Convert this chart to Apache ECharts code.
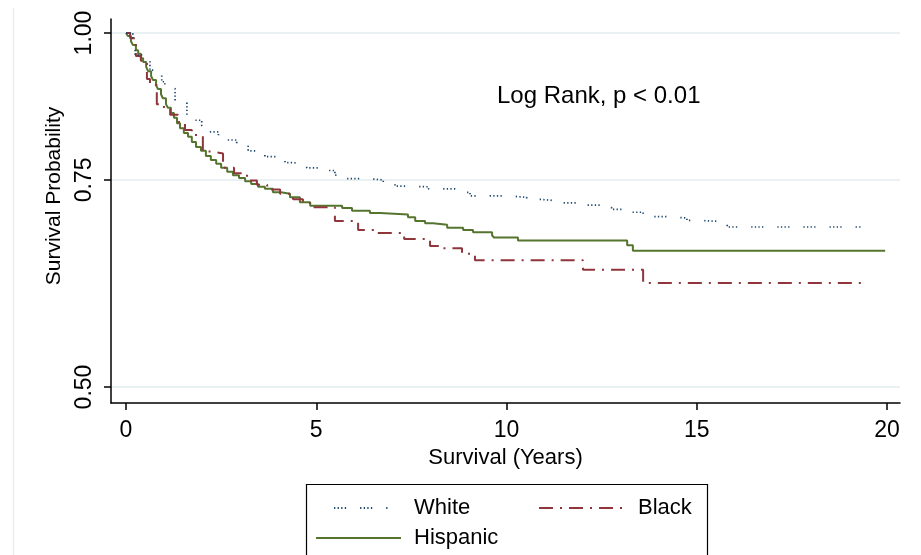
<!DOCTYPE html>
<html><head><meta charset="utf-8">
<script src="https://cdn.jsdelivr.net/npm/echarts@6/dist/echarts.min.js"></script>
<style>html,body{margin:0;padding:0;background:#fff}#c{width:921px;height:555px}</style>
</head><body><div id="c"></div>
<script>
// ---- data ----
const xTicks = [0, 5, 10, 15, 20];
const yTicks = [0.50, 0.75, 1.00];
const seriesNames = ['White', 'Black', 'Hispanic'];
const annotation = 'Log Rank, p < 0.01';
const xTitle = 'Survival (Years)';
const yTitle = 'Survival Probability';

const whiteTime = [0, 0.18, 0.24, 0.63, 0.76, 0.94, 1.02, 1.29, 1.60, 1.81, 1.99, 2.18, 2.43, 2.56, 2.91, 3.21, 3.65, 4.18, 4.35, 4.75, 5.23, 5.49, 5.80, 6.33, 6.76, 7.07, 7.25, 7.95, 8.65, 8.87, 9.04, 10.01, 10.53, 10.88, 11.36, 12.02, 12.46, 12.76, 13.16, 13.59, 14.24, 14.74, 15.00, 15.80, 19.34];
const whiteSurv = [1, 0.974, 0.958, 0.930, 0.924, 0.909, 0.897, 0.877, 0.852, 0.843, 0.834, 0.824, 0.816, 0.811, 0.803, 0.794, 0.785, 0.776, 0.774, 0.768, 0.764, 0.757, 0.752, 0.750, 0.745, 0.741, 0.740, 0.737, 0.735, 0.732, 0.727, 0.725, 0.722, 0.720, 0.717, 0.714, 0.711, 0.708, 0.704, 0.698, 0.696, 0.693, 0.691, 0.684, 0.684];

const blackTime = [0, 0.11, 0.26, 0.39, 0.55, 0.63, 0.81, 0.89, 1.16, 1.37, 1.55, 1.73, 2.02, 2.23, 2.55, 2.84, 3.18, 3.44, 3.71, 4.05, 4.39, 4.65, 4.84, 5.49, 6.10, 6.57, 7.31, 7.99, 8.25, 8.83, 9.17, 12.01, 13.59, 19.37];
const blackSurv = [1, 0.990, 0.956, 0.947, 0.914, 0.903, 0.870, 0.865, 0.852, 0.840, 0.827, 0.819, 0.793, 0.790, 0.768, 0.760, 0.749, 0.743, 0.736, 0.730, 0.722, 0.717, 0.711, 0.692, 0.680, 0.676, 0.668, 0.659, 0.656, 0.649, 0.641, 0.629, 0.613, 0.613];

const hispTime = [0, 0.05, 0.13, 0.18, 0.26, 0.32, 0.39, 0.45, 0.53, 0.58, 0.66, 0.71, 0.79, 0.84, 0.92, 0.97, 1.05, 1.10, 1.18, 1.26, 1.34, 1.42, 1.52, 1.63, 1.73, 1.84, 1.97, 2.10, 2.23, 2.37, 2.50, 2.66, 2.81, 2.97, 3.13, 3.29, 3.47, 3.65, 3.86, 4.07, 4.31, 4.57, 4.84, 5.68, 5.94, 6.41, 6.68, 7.41, 7.60, 7.86, 8.07, 8.44, 8.86, 9.12, 9.62, 9.67, 10.30, 13.17, 13.32, 19.95];
const hispSurv = [1, 0.994, 0.984, 0.977, 0.967, 0.960, 0.952, 0.945, 0.936, 0.928, 0.919, 0.912, 0.903, 0.896, 0.887, 0.880, 0.870, 0.864, 0.855, 0.847, 0.838, 0.830, 0.822, 0.816, 0.808, 0.800, 0.794, 0.786, 0.780, 0.774, 0.768, 0.762, 0.757, 0.753, 0.748, 0.744, 0.740, 0.737, 0.732, 0.730, 0.725, 0.718, 0.713, 0.710, 0.706, 0.703, 0.701, 0.697, 0.692, 0.689, 0.687, 0.683, 0.680, 0.677, 0.673, 0.670, 0.666, 0.660, 0.653, 0.653];

function zip(a, b) { const n = Math.min(a.length, b.length); const r = []; for (let i = 0; i < n; i++) r.push([a[i], b[i]]); return r; }

const FONT = '"Liberation Sans", Arial, Helvetica, sans-serif';
const NAVY = '#1a476f', MAROON = '#90353b', GREEN = '#55752f';
const hideSym = {opacity: 0, color: 'transparent', borderWidth: 0};

const chart = echarts.init(document.getElementById('c'), null, {renderer: 'canvas'});
chart.setOption({
  animation: false,
  backgroundColor: '#fff',
  textStyle: {fontFamily: FONT},
  grid: {left: 111, right: 21, top: 19, bottom: 152},
  xAxis: {
    type: 'value', min: -0.394, max: 20.34,
    axisLine: {onZero: false, lineStyle: {color: '#000', width: 1.5}},
    axisTick: {customValues: xTicks, length: 7, lineStyle: {color: '#000', width: 1.5}},
    axisLabel: {customValues: xTicks, margin: 16, fontSize: 23, color: '#000', fontFamily: FONT},
    splitLine: {show: false},
    name: xTitle, nameLocation: 'middle', nameGap: 41,
    nameTextStyle: {fontSize: 22, color: '#000', fontFamily: FONT}
  },
  yAxis: {
    type: 'log', min: 0.4846, max: 1.0278,
    axisLine: {show: true, onZero: false, lineStyle: {color: '#000', width: 1.5}},
    axisTick: {show: true, customValues: yTicks, length: 7, lineStyle: {color: '#000', width: 1.5}},
    axisLabel: {customValues: yTicks, rotate: 90, margin: 15, fontSize: 23, color: '#000', fontFamily: FONT,
      formatter: v => Number(v).toFixed(2)},
    splitLine: {show: true, lineStyle: {color: '#e3edee', width: 1.5}},
    minorTick: {show: false}, minorSplitLine: {show: false},
    name: yTitle, nameLocation: 'middle', nameGap: 46,
    nameTextStyle: {fontSize: 21, color: '#000', fontFamily: FONT, padding: [0, 0, 0, 30]}
  },
  legend: [
    {data: [seriesNames[0]], left: 333, top: 497, padding: 0, itemWidth: 54, itemHeight: 14, selectedMode: false,
     itemStyle: hideSym,
     textStyle: {fontSize: 22, color: '#000', fontFamily: FONT, padding: [0, 0, 0, 21]}},
    {data: [seriesNames[1]], left: 538, top: 497, padding: 0, itemWidth: 85, itemHeight: 14, selectedMode: false,
     itemStyle: hideSym,
     textStyle: {fontSize: 22, color: '#000', fontFamily: FONT, padding: [0, 0, 0, 9]}},
    {data: [seriesNames[2]], left: 315, top: 527, padding: 0, itemWidth: 85, itemHeight: 14, selectedMode: false,
     itemStyle: hideSym,
     textStyle: {fontSize: 22, color: '#000', fontFamily: FONT, padding: [0, 0, 0, 8]}}
  ],
  graphic: [
    {type: 'line', shape: {x1: 13.5, y1: 8, x2: 13.5, y2: 555}, style: {stroke: '#e8eef2', lineWidth: 1.5}, silent: true},
    {type: 'rect', shape: {x: 306.5, y: 484.5, width: 401, height: 90}, style: {fill: null, stroke: '#000', lineWidth: 1.2}, silent: true},
    {type: 'text', x: 497, y: 96, style: {text: annotation, fontSize: 24, fontFamily: FONT, fill: '#000', verticalAlign: 'middle', align: 'left'}, silent: true}
  ],
  series: [
    {name: seriesNames[0], type: 'line', step: 'end', symbol: 'none', data: zip(whiteTime, whiteSurv),
     itemStyle: {color: NAVY},
     lineStyle: {color: NAVY, width: 1.7, type: [1.3, 2.3, 1.3, 2.3, 1.3, 2.3, 1.3, 14], cap: 'butt'}, z: 3},
    {name: seriesNames[1], type: 'line', step: 'end', symbol: 'none', data: zip(blackTime, blackSurv),
     itemStyle: {color: MAROON},
     lineStyle: {color: MAROON, width: 2, type: [14, 7, 2, 7]}, z: 2},
    {name: seriesNames[2], type: 'line', step: 'end', symbol: 'none', data: zip(hispTime, hispSurv),
     itemStyle: {color: GREEN},
     lineStyle: {color: GREEN, width: 2, type: 'solid'}, z: 1}
  ]
});
</script>
</body></html>
